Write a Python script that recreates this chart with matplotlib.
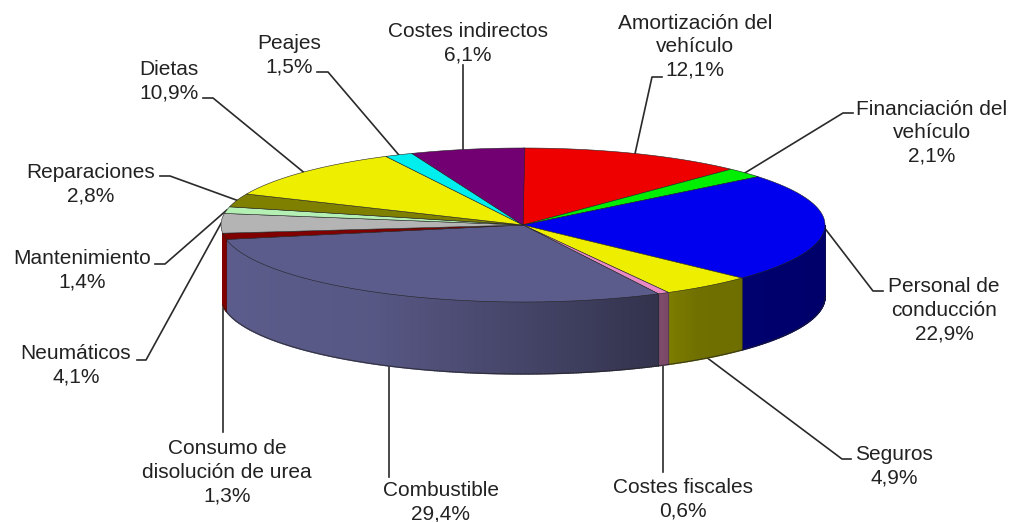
""" 3D style pie chart of transport costs.
"""


""" IMPORTS """
import numpy as np
import matplotlib
matplotlib.use("Agg")
import matplotlib.pyplot as plt
from matplotlib.patches import Polygon


""" INPUTS """
labels = ["Amortización del\nvehículo\n12,1%", "Financiación del\nvehículo\n2,1%",
          "Personal de\nconducción\n22,9%", "Seguros\n4,9%", "Costes fiscales\n0,6%",
          "Combustible\n29,4%", "Consumo de\ndisolución de urea\n1,3%", "Neumáticos\n4,1%",
          "Mantenimiento\n1,4%", "Reparaciones\n2,8%", "Dietas\n10,9%", "Peajes\n1,5%",
          "Costes indirectos\n6,1%"]
values = [12.1, 2.1, 22.9, 4.9, 0.6, 29.4, 1.3, 4.1, 1.4, 2.8, 10.9, 1.5, 6.1]
colors = ["#ee0000", "#00ee00", "#0000ee", "#eeee00", "#e88ac4", "#5c5c8c", "#800000",
          "#b4b4b4", "#b4f0b4", "#808000", "#eeee00", "#00eeee", "#720072"]

# pie geometry in pixels
cx, cy = 523, 225
rx, ry = 302, 77
depth = 72

# label centre, leader elbow, end of the short horizontal stub
label_pos = [(695, 47), (932, 133), (944, 310), (894, 466), (683, 499), (441, 502),
             (227, 472), (76, 365), (82, 270), (91, 184), (169, 81), (289, 55), (468, 43)]
elbows = [(652, 77), (843, 113), (873, 291), (842, 459), (663, 472), (389, 477),
          (223, 432), (146, 360), (165, 264), (170, 176), (213, 98), (328, 72), (463, 65)]
stubs = [(662, 77), (853, 113), (883, 291), (851, 459), None, None,
         None, (137, 360), (155, 264), (160, 176), (203, 98), (317, 72), None]


""" FUNCTIONS """
def ellipse(t):
    # t in degrees, clockwise from 12 o'clock
    r = np.radians(t)
    return cx + rx * np.sin(r), cy - ry * np.cos(r)

def shade(t):
    # side wall gets darker towards the right
    return np.interp(t, [90, 145, 155, 185, 210, 250], [0.44, 0.47, 0.56, 0.78, 0.95, 1.0])

def darker(color, f):
    rgb = np.array(matplotlib.colors.to_rgb(color))
    return tuple(rgb * f)

def main():
    fig = plt.figure(figsize=(10.13, 5.22), dpi=100)
    ax = fig.add_axes([0, 0, 1, 1])
    ax.set_xlim(0, 1013)
    ax.set_ylim(522, 0)
    ax.axis("off")

    edges = np.cumsum([0] + values) * 3.6

    # leaders first, the pie sits on top
    for i, v in enumerate(values):
        mid = (edges[i] + edges[i + 1]) / 2
        x, y = ellipse(mid)
        if 100 < mid < 270:
            y += depth
        if stubs[i] is None:
            x = elbows[i][0]  # these ones drop straight down or up
        pts = [(x, y), elbows[i]]
        if stubs[i] is not None:
            pts.append(stubs[i])
        ax.plot(*zip(*pts), color="#2a2a2a", lw=1.2, zorder=1)

    # side walls, drawn as thin strips for the gradient
    for i, v in enumerate(values):
        t0, t1 = max(edges[i], 90), min(edges[i + 1], 270)
        if t1 <= t0 or t0 > 262:
            continue  # the grey slice only shows a sliver on the far left, skip it
        n = max(int((t1 - t0) * 2), 1)
        ts = np.linspace(t0, t1, n + 1)
        for a, b in zip(ts[:-1], ts[1:]):
            xa, ya = ellipse(a)
            xb, yb = ellipse(b)
            c = darker(colors[i], shade((a + b) / 2))
            ax.add_patch(Polygon([(xa, ya), (xb, yb), (xb, yb + depth), (xa, ya + depth)],
                                 closed=True, fc=c, ec=c, lw=1.0, zorder=2 + 0.001 * i))
        # dark seam between walls and along the bottom edge
        bx, by = ellipse(ts)
        ax.plot(bx, by + depth, color="#222222", lw=0.8, alpha=0.7, zorder=3)
        sx, sy = ellipse(t0)
        ax.plot([sx, sx], [sy, sy + depth], color="#222222", lw=0.6, alpha=0.4, zorder=3)

    # top face
    for i, v in enumerate(values):
        ts = np.linspace(edges[i], edges[i + 1], max(int(v * 4), 4))
        ex, ey = ellipse(ts)
        pts = [(cx, cy)] + list(zip(ex, ey))
        ax.add_patch(Polygon(pts, closed=True, fc=colors[i], ec="#222222", lw=0.4, zorder=4))

    # labels
    for i, lab in enumerate(labels):
        ax.text(label_pos[i][0], label_pos[i][1], lab, ha="center", va="center",
                fontsize=15, color="#222222", linespacing=1.3,
                family=["Liberation Sans", "DejaVu Sans"], zorder=5)

    fig.savefig("out.png", dpi=100)
    plt.close(fig)


""" EXECUTION """
if __name__ == "__main__":
    main()
